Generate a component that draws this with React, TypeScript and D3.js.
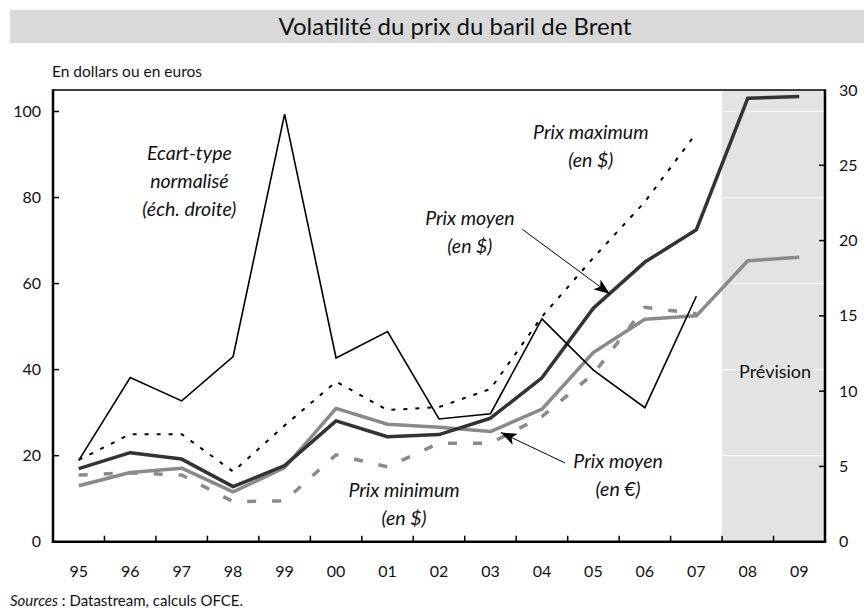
import * as d3 from "d3";

// années (axe des x)
const years = ["95", "96", "97", "98", "99", "00", "01", "02", "03", "04", "05", "06", "07", "08", "09"];
const forecastFrom = "08";

// en dollars / euros (échelle gauche)
const prixMoyenDollar = [17.0, 20.7, 19.2, 12.8, 17.7, 28.1, 24.4, 24.9, 28.7, 38.1, 54.3, 65.0, 72.5, 103.1, 103.5];
const prixMoyenEuro = [13.0, 16.1, 17.1, 11.6, 17.2, 31.0, 27.3, 26.6, 25.6, 30.8, 44.0, 51.7, 52.5, 65.3, 66.1];
const prixMaximum = [19.0, 25.0, 25.0, 16.3, 27.0, 37.2, 30.6, 31.3, 35.5, 52.3, 66.0, 79.0, 95.0];
const prixMinimum = [15.5, 16.0, 15.5, 9.3, 9.5, 20.2, 17.4, 22.9, 22.9, 29.1, 39.0, 54.5, 53.0];

// échelle droite
const ecartType = [5.4, 10.9, 9.35, 12.3, 28.4, 12.2, 13.95, 8.15, 8.5, 14.8, 11.4, 8.9, 16.3];

const leftTicks = [0, 20, 40, 60, 80, 100];
const rightTicks = [0, 5, 10, 15, 20, 25, 30];

// annotations : [indice année, valeur échelle gauche]
const labels = [
  { at: [2.15, 88.8], lines: ["Ecart-type", "normalisé", "(éch. droite)"], italic: true },
  { at: [9.95, 93.7], lines: ["Prix maximum", "(en $)"], italic: true },
  { at: [7.6, 73.6], lines: ["Prix moyen", "(en $)"], italic: true },
  { at: [10.48, 17.1], lines: ["Prix moyen", "(en €)"], italic: true },
  { at: [6.32, 10.4], lines: ["Prix minimum", "(en $)"], italic: true },
  { at: [13.53, 38.1], lines: ["Prévision"], italic: false },
];
const arrows = [
  { from: [8.62, 72.6], to: [10.32, 57.6] },
  { from: [9.45, 18.3], to: [8.2, 25.4] },
];

const W = 864,
  H = 612;
const plot = { left: 53, right: 825, top: 90, bottom: 541.7 };
const font = "Lato, 'Open Sans', sans-serif";

export default function App() {
  const x = d3.scaleBand().domain(years).range([plot.left, plot.right]).padding(0);
  const cx = (i: number) => (x(years[i]) as number) + x.bandwidth() / 2;
  const xi = d3.scaleLinear().domain([0, years.length - 1]).range([cx(0), cx(years.length - 1)]);
  const yL = d3.scaleLinear().domain([0, 105]).range([plot.bottom, plot.top]);
  const yR = d3.scaleLinear().domain([0, 30]).range([plot.bottom, plot.top]);

  const lineL = d3
    .line<number>()
    .x((d, i) => cx(i))
    .y((d) => yL(d));
  const lineR = d3
    .line<number>()
    .x((d, i) => cx(i))
    .y((d) => yR(d));

  const shadeX = x(forecastFrom) as number;

  return (
    <svg
      width={W}
      height={H}
      style={{ position: "absolute", left: 0, top: 0, background: "#fff" }}
      fontFamily={font}
    >
      <defs>
        <marker
          id="head"
          viewBox="0 0 16 12"
          refX={16}
          refY={6}
          markerWidth={16}
          markerHeight={12}
          markerUnits="userSpaceOnUse"
          orient="auto"
        >
          <path d="M0,0 L16,6 L0,12 L4,6 Z" fill="#000" />
        </marker>
      </defs>

      {/* titre */}
      <rect x={10} y={10} width={W - 10} height={33} fill="#d9d9d9" />
      <text x={455} y={35} textAnchor="middle" fontSize={24} fill="#111">
        Volatilité du prix du baril de Brent
      </text>
      <text x={52} y={77} fontSize={15.5} fill="#111">
        En dollars ou en euros
      </text>

      {/* zone de prévision */}
      <rect x={shadeX} y={plot.top} width={plot.right - shadeX} height={plot.bottom - plot.top} fill="#e3e3e3" />
      {leftTicks.slice(1).map((t) => (
        <line key={t} x1={shadeX} x2={plot.right} y1={yL(t)} y2={yL(t)} stroke="#fff" strokeWidth={1} />
      ))}

      {/* séries */}
      <path d={lineL(prixMinimum) || ""} fill="none" stroke="#8a8a8a" strokeWidth={3.5} strokeDasharray="9,16" />
      <path d={lineL(prixMoyenEuro) || ""} fill="none" stroke="#8a8a8a" strokeWidth={3.5} strokeLinejoin="round" />
      <path d={lineL(prixMaximum) || ""} fill="none" stroke="#000" strokeWidth={2} strokeDasharray="4,8" />
      <path d={lineL(prixMoyenDollar) || ""} fill="none" stroke="#333" strokeWidth={3.5} strokeLinejoin="round" />
      <path d={lineR(ecartType) || ""} fill="none" stroke="#000" strokeWidth={1.6} />

      {/* cadre */}
      <line x1={plot.left} x2={plot.right} y1={plot.top} y2={plot.top} stroke="#000" strokeWidth={1.5} />
      <line x1={plot.left} x2={plot.left} y1={plot.top - 0.75} y2={plot.bottom} stroke="#000" strokeWidth={2.5} />
      <line x1={plot.right} x2={plot.right} y1={plot.top - 0.75} y2={plot.bottom} stroke="#000" strokeWidth={2.5} />
      <line x1={plot.left - 1.25} x2={plot.right + 1.25} y1={plot.bottom} y2={plot.bottom} stroke="#000" strokeWidth={2.5} />

      {/* axe gauche */}
      {leftTicks.map((t) => (
        <g key={t}>
          {t > 0 && <line x1={plot.left} x2={plot.left + 6} y1={yL(t)} y2={yL(t)} stroke="#000" strokeWidth={1.5} />}
          <text x={41} y={yL(t)} dy="0.35em" textAnchor="end" fontSize={16} fill="#111">
            {t}
          </text>
        </g>
      ))}

      {/* axe droit */}
      {rightTicks.map((t) => (
        <g key={t}>
          {t > 0 && t < 30 && (
            <line x1={plot.right - 6} x2={plot.right} y1={yR(t)} y2={yR(t)} stroke="#000" strokeWidth={1.5} />
          )}
          <text x={839} y={yR(t)} dy="0.35em" textAnchor="start" fontSize={16} fill="#111">
            {t}
          </text>
        </g>
      ))}

      {/* axe des x */}
      {years.map((yr, i) => (
        <g key={yr}>
          {i > 0 && (
            <line
              x1={x(yr) as number}
              x2={x(yr) as number}
              y1={plot.bottom}
              y2={plot.bottom - 6}
              stroke="#000"
              strokeWidth={1.5}
            />
          )}
          <text x={cx(i)} y={577} textAnchor="middle" fontSize={16} fill="#111">
            {yr}
          </text>
        </g>
      ))}

      {/* annotations */}
      {labels.map((l, k) => (
        <text
          key={k}
          x={xi(l.at[0])}
          y={yL(l.at[1])}
          textAnchor="middle"
          fontSize={l.italic ? 19.5 : 18}
          fontStyle={l.italic ? "italic" : "normal"}
          fill="#111"
        >
          {l.lines.map((s, j) => (
            <tspan key={j} x={xi(l.at[0])} dy={j === 0 ? 0 : 28}>
              {s}
            </tspan>
          ))}
        </text>
      ))}
      {arrows.map((a, k) => (
        <line
          key={k}
          x1={xi(a.from[0])}
          y1={yL(a.from[1])}
          x2={xi(a.to[0])}
          y2={yL(a.to[1])}
          stroke="#000"
          strokeWidth={1}
          markerEnd="url(#head)"
        />
      ))}

      <text x={10} y={606} fontSize={15} fill="#111">
        <tspan fontStyle="italic">Sources</tspan> : Datastream, calculs OFCE.
      </text>
    </svg>
  );
}
